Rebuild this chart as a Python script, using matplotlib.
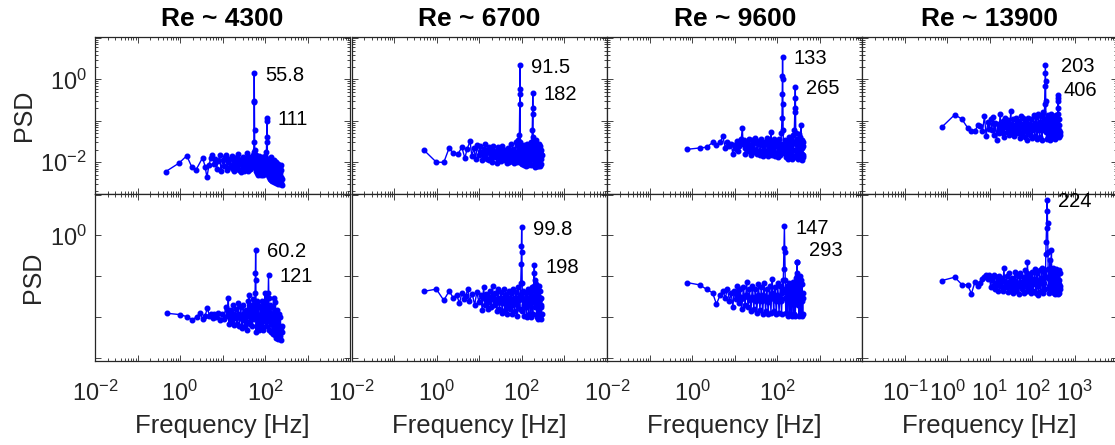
import matplotlib.pyplot as plt
from matplotlib.ticker import LogLocator, NullLocator

plt.rcParams['font.family'] = ['Liberation Sans', 'DejaVu Sans']
plt.rcParams['mathtext.fontset'] = 'custom'
plt.rcParams['mathtext.rm'] = 'Liberation Sans'
plt.rcParams['mathtext.it'] = 'Liberation Sans:italic'
plt.rcParams['mathtext.bf'] = 'Liberation Sans:bold'

TITLES = ['Re ~ 4300', 'Re ~ 6700', 'Re ~ 9600', 'Re ~ 13900']

# ---- row 1 ----
freq_a = [0.46, 0.95, 1.44, 1.9, 2.4, 3.4, 3.9, 4.3, 4.8, 5.3, 5.8, 6.3, 6.8, 7.3, 7.8, 8.7, 9.2,
          10.1, 11.0, 11.6, 12.1, 13.0, 13.6, 14.0, 15.0, 15.5, 16.4, 16.9, 17.9, 18.4, 19.3, 19.8,
          20.8, 21.3, 22.3, 23.2, 24.2, 24.7, 25.7, 26.6, 27.6, 28.5, 29.5, 30.5, 31.5, 32.4, 33.4,
          34.4, 35.4, 36.3, 37.3, 38.7, 39.6, 40.6, 42.0, 43.1, 44.1, 45.5, 46.5, 48.0, 49.0, 50.4,
          51.4, 52.8, 53.8, 54.3, 54.8, 55.3, 55.8, 56.3, 56.8, 57.3, 58.2, 59.2, 60.2, 61.1, 62.1,
          63.5, 65.0, 66.5, 68.0, 69.5, 71.0, 72.5, 74.0, 75.8, 77.6, 79.3, 81.0, 82.8, 84.5, 86.2,
          88.0, 90.0, 92.0, 94.0, 96.0, 98.0, 100, 102, 105, 108, 110, 111, 112, 113, 115, 117, 118,
          120, 122, 124, 126, 128, 130, 133, 135, 137, 140, 142, 145, 147, 150, 153, 156, 158, 161,
          164, 167, 170, 173, 176, 180, 183, 186, 190, 193, 197, 200, 204, 208, 212, 216, 220, 224,
          228, 232, 236, 240, 244, 247, 250]
psd_a = [0.0059, 0.0095, 0.0143, 0.0076, 0.0066, 0.0128, 0.0078, 0.0043, 0.0085, 0.0125, 0.0152,
         0.0090, 0.0120, 0.0070, 0.0105, 0.0145, 0.0060,
         0.0110, 0.0080, 0.0130, 0.0150, 0.0065, 0.0100, 0.0120, 0.0075, 0.0085, 0.0125, 0.0140,
         0.0070, 0.0060, 0.0095, 0.0115, 0.0080, 0.0075, 0.0130, 0.0160, 0.0090, 0.0065, 0.0100,
         0.0110, 0.0058, 0.0070, 0.0120, 0.0135, 0.0085, 0.0060, 0.0095, 0.0125, 0.0080, 0.0075,
         0.0110, 0.0170, 0.0090, 0.0060, 0.0100, 0.0130, 0.0070, 0.0068, 0.0105, 0.0120, 0.0080,
         0.0075, 0.0115, 0.0145, 0.0100, 0.0180, 0.030, 0.30, 1.4, 0.28, 0.060, 0.020, 0.0090,
         0.0130, 0.0150, 0.0070, 0.0060, 0.0100, 0.0120, 0.0055, 0.0050, 0.0090, 0.0140, 0.0075,
         0.0055, 0.0085, 0.0110, 0.0060, 0.0050, 0.0095, 0.0130, 0.0065, 0.0048, 0.0080, 0.0115,
         0.0058, 0.0052, 0.0090, 0.0140, 0.0070, 0.0060, 0.018, 0.040, 0.117, 0.100, 0.030, 0.0060,
         0.0095, 0.0050, 0.0120, 0.0070, 0.0045, 0.0085, 0.0105, 0.0040, 0.0075, 0.0130, 0.0055,
         0.0038, 0.0090, 0.0065, 0.0110, 0.0035, 0.0080, 0.0050, 0.0095, 0.0033, 0.0070, 0.0110,
         0.0045, 0.0036, 0.0085, 0.0055, 0.0100, 0.0032, 0.0065, 0.0040, 0.0090, 0.0030, 0.0060,
         0.0080, 0.0034, 0.0050, 0.0075, 0.0029, 0.0055, 0.0085, 0.0031, 0.0045, 0.0065, 0.0028,
         0.0040]
peaks_a = [55.8, 111]

freq_b = [0.49, 0.98, 1.47, 1.96, 2.45, 3.2, 3.9, 4.6, 5.2, 6.1, 6.7, 7.5, 8.2, 9.0, 9.8, 10.6,
          11.2, 11.8, 12.4, 12.9, 13.5, 14.0, 14.7, 15.3, 16.0, 16.6, 17.4, 18.3, 19.1, 19.9, 20.7,
          21.6, 22.6, 23.6, 24.6, 25.6, 26.7, 27.8, 29.0, 30.1, 31.3, 32.5, 33.8, 35.2, 36.6, 38.0,
          39.4, 40.8, 42.4, 44.0, 45.6, 47.3, 49.1, 50.9, 52.7, 54.6, 56.5, 58.4, 60.5, 62.6, 64.8,
          67.0, 69.2, 71.5, 73.9, 76.3, 78.2, 80.0, 82.0, 84.0, 86.0, 88.0, 90.0, 91.0, 91.5, 92.0,
          93.0, 94.5, 96.0, 97.5, 99.5, 102, 104, 106, 108, 110, 113, 115, 117, 119, 122, 124, 126,
          129, 131, 133, 136, 138, 140, 143, 146, 148, 151, 154, 157, 160, 163, 166, 169, 172, 175,
          178, 180, 182, 184, 186, 188, 191, 194, 197, 200, 203, 206, 210, 213, 217, 220, 224, 228,
          232, 236, 240, 244, 248, 252, 256, 260, 264, 268, 272, 276, 280, 284, 288, 292, 296]
psd_b = [0.020, 0.010, 0.0099, 0.022, 0.0165, 0.016, 0.023, 0.0125, 0.021, 0.032, 0.014, 0.022,
         0.012, 0.026, 0.015, 0.024,
         0.018, 0.011, 0.016, 0.021, 0.013, 0.027, 0.017, 0.012, 0.019, 0.023, 0.011, 0.020, 0.015,
         0.010, 0.018, 0.024, 0.013, 0.019, 0.014, 0.0095, 0.017, 0.023, 0.012, 0.016, 0.021,
         0.0105, 0.015, 0.025, 0.012, 0.018, 0.011, 0.020, 0.014, 0.0095, 0.017, 0.022, 0.012,
         0.010, 0.019, 0.027, 0.013, 0.0105, 0.017, 0.021, 0.011, 0.0095, 0.016, 0.030, 0.013,
         0.0100, 0.018, 0.024, 0.012, 0.034, 0.016, 0.045, 0.25, 0.60, 2.2, 0.45, 0.030, 0.014,
         0.0095, 0.020, 0.012, 0.024, 0.0090, 0.016, 0.021, 0.0110, 0.026, 0.0085, 0.015, 0.020,
         0.0095, 0.022, 0.013, 0.0080, 0.018, 0.028, 0.0095, 0.016, 0.021, 0.0085, 0.019, 0.012,
         0.026, 0.0090, 0.017, 0.022, 0.0085, 0.015, 0.030, 0.012, 0.030, 0.060, 0.15, 0.48, 0.20,
         0.040, 0.012, 0.0085, 0.020, 0.011, 0.024, 0.0078, 0.016, 0.022, 0.0085, 0.034, 0.013,
         0.0080, 0.019, 0.026, 0.0090, 0.015, 0.021, 0.0080, 0.028, 0.012, 0.0085, 0.018, 0.024,
         0.0080, 0.014, 0.020, 0.0090, 0.016, 0.012, 0.015]
peaks_b = [91.5, 182]

freq_c = [0.74, 1.5, 2.2, 3.0, 3.7, 4.5, 5.2, 6.0, 6.7, 7.5, 8.2, 9.0, 9.7, 10.5, 11.2, 12.0,
          12.7, 13.5, 14.2, 15.0, 15.7, 16.5, 17.2, 17.7, 18.5, 19.2, 20.0, 21.0, 22.0, 23.0, 24.0,
          25.0, 26.0, 27.0, 28.0, 29.3, 30.5, 31.7, 33.0, 34.5, 36.0, 37.5, 39.0, 40.5, 42.0, 43.8,
          45.5, 47.2, 49.0, 51.0, 53.0, 55.0, 57.0, 59.0, 61.0, 63.5, 66.0, 68.5, 71.0, 73.5, 76.0,
          79.0, 82.0, 85.0, 88.0, 91.5, 95.0, 98.5, 102, 106, 110, 114, 118, 121, 125, 129, 131,
          132, 133, 134, 135, 137, 139, 142, 146, 150, 154, 158, 162, 167, 171, 176, 181, 186, 191,
          196, 201, 207, 212, 218, 224, 230, 236, 242, 247, 252, 258, 262, 265, 268, 272, 276, 280,
          286, 292, 298, 305, 311, 318, 325, 332, 339, 346, 353, 360, 364, 368, 373, 378, 383, 388,
          393, 398, 402, 405]
psd_c = [0.0204, 0.022, 0.023, 0.030, 0.026, 0.030, 0.042, 0.022, 0.031, 0.024, 0.028, 0.016,
         0.026, 0.021, 0.033, 0.019, 0.025, 0.030, 0.036, 0.068, 0.027, 0.034, 0.022, 0.016, 0.026,
         0.030, 0.019, 0.025, 0.036, 0.020, 0.015, 0.028, 0.034, 0.021, 0.018, 0.030, 0.038, 0.020,
         0.016, 0.027, 0.033, 0.018, 0.015, 0.028, 0.036, 0.019, 0.014, 0.026, 0.031, 0.018, 0.016,
         0.029, 0.038, 0.020, 0.014, 0.026, 0.034, 0.019, 0.054, 0.022, 0.015, 0.028, 0.037, 0.018,
         0.014, 0.026, 0.033, 0.017, 0.013, 0.025, 0.036, 0.020, 0.015, 0.028, 0.050, 0.12, 0.45,
         1.2, 3.5, 1.0, 0.25, 0.060, 0.025, 0.017, 0.028, 0.035, 0.019, 0.013, 0.024, 0.031, 0.016,
         0.012, 0.027, 0.040, 0.020, 0.013, 0.025, 0.034, 0.017, 0.012, 0.028, 0.045, 0.020, 0.014,
         0.030, 0.060, 0.16, 0.35, 0.66, 0.20, 0.050, 0.020, 0.013, 0.026, 0.036, 0.018, 0.012,
         0.030, 0.048, 0.019, 0.013, 0.026, 0.040, 0.022, 0.080, 0.030, 0.012, 0.022, 0.035, 0.016,
         0.011, 0.024, 0.030, 0.015, 0.013]
peaks_c = [133, 265]

freq_d = [0.74, 1.5, 2.2, 3.0, 3.7, 4.5, 5.2, 6.0, 6.7, 7.5, 8.2, 9.0, 9.7, 10.5, 11.2, 12.0,
          12.7, 13.5, 14.5, 15.5, 16.5, 17.5, 18.5, 19.2, 20.0, 20.7, 21.5, 22.3, 23.0, 24.0, 25.0,
          26.0, 27.0, 28.0, 29.0, 30.0, 31.0, 32.0, 33.0, 34.2, 35.5, 36.7, 38.0, 39.5, 41.0, 42.5,
          44.0, 45.5, 47.0, 48.7, 50.5, 52.2, 54.0, 56.0, 58.0, 60.0, 62.0, 64.0, 66.0, 68.5, 71.0,
          73.5, 76.0, 78.5, 81.0, 84.0, 87.0, 90.0, 93.0, 96.5, 100, 103, 107, 110, 114, 118, 122,
          126, 130, 134, 139, 143, 148, 153, 158, 163, 168, 173, 178, 183, 188, 192, 195, 199, 201,
          203, 205, 207, 210, 214, 218, 223, 228, 234, 240, 246, 252, 258, 265, 271, 278, 285, 292,
          299, 306, 313, 320, 327, 335, 342, 350, 357, 365, 371, 378, 384, 390, 394, 398, 403, 406,
          409, 414, 420, 426, 432, 438, 445]
psd_d = [0.070, 0.141, 0.110, 0.068, 0.056, 0.057, 0.078, 0.075, 0.056, 0.128, 0.042, 0.095,
         0.062, 0.110, 0.060, 0.125, 0.045, 0.090, 0.035, 0.085, 0.050, 0.150, 0.060, 0.080, 0.100,
         0.052, 0.040, 0.075, 0.120, 0.070, 0.055, 0.090, 0.105, 0.060, 0.045, 0.080, 0.170, 0.070,
         0.050, 0.085, 0.110, 0.060, 0.042, 0.075, 0.120, 0.065, 0.050, 0.085, 0.100, 0.055, 0.038,
         0.070, 0.130, 0.075, 0.048, 0.085, 0.115, 0.060, 0.040, 0.070, 0.095, 0.055, 0.035, 0.080,
         0.120, 0.065, 0.045, 0.085, 0.110, 0.060, 0.038, 0.075, 0.140, 0.070, 0.042, 0.090, 0.125,
         0.060, 0.036, 0.080, 0.150, 0.070, 0.040, 0.095, 0.130, 0.060, 0.035, 0.085, 0.160, 0.070,
         0.060, 0.110, 0.25, 0.70, 1.4, 2.2, 0.90, 0.30, 0.080, 0.055, 0.036, 0.090, 0.140, 0.065,
         0.040, 0.085, 0.120, 0.060, 0.035, 0.090, 0.150, 0.070, 0.040, 0.095, 0.130, 0.060, 0.038,
         0.080, 0.120, 0.065, 0.036, 0.090, 0.140, 0.070, 0.045, 0.110, 0.100, 0.150, 0.20, 0.35,
         0.42, 0.30, 0.060, 0.040, 0.080, 0.110, 0.055, 0.045]
peaks_d = [203, 406]

# ---- row 2 ----
freq_e = [0.49, 0.98, 1.47, 1.96, 2.45, 2.94, 3.43, 3.92, 4.41, 4.90, 5.39, 5.88, 6.37, 6.86,
          7.8, 8.8, 9.8, 10.8, 11.8, 12.7, 13.2, 13.7, 14.2, 14.7, 15.2, 15.7, 16.2, 16.9, 17.6,
          18.4, 19.1, 19.8, 20.6, 21.3, 22.1, 22.8, 23.5, 24.2, 25.0, 26.0, 27.0, 28.0, 29.0, 30.0,
          31.0, 32.0, 33.0, 34.0, 35.0, 36.2, 37.5, 38.8, 40.0, 41.0, 42.0, 43.0, 44.0, 45.5, 47.0,
          48.5, 50.0, 51.5, 53.0, 54.5, 56.0, 57.3, 58.5, 59.5, 60.2, 61.0, 61.5, 62.0, 63.0, 64.0,
          65.5, 67.0, 68.5, 70.0, 72.0, 74.0, 76.0, 78.0, 80.0, 82.0, 84.0, 86.0, 88.0, 90.0, 92.5,
          95.0, 97.5, 100, 102, 104, 107, 110, 113, 116, 119, 121, 123, 124.5, 126, 129, 132, 135,
          138, 141, 145, 148, 152, 156, 160, 164, 168, 172, 176, 180, 184, 188, 192, 196, 200, 205,
          210, 215, 220, 225, 230, 235, 240, 245, 250]
psd_e = [0.0126, 0.0117, 0.0104, 0.0087, 0.0103, 0.0126, 0.0090, 0.0110, 0.0173, 0.0110, 0.0120,
         0.0095, 0.0120, 0.0105, 0.0130, 0.0085, 0.0120, 0.0090, 0.0180, 0.0110, 0.0140, 0.030,
         0.0068, 0.0110, 0.0150, 0.0090, 0.0080, 0.0130, 0.0200, 0.0110, 0.0065, 0.0100, 0.0160,
         0.0095, 0.0070, 0.0120, 0.0220, 0.0100, 0.0060, 0.0110, 0.0180, 0.0090, 0.0055, 0.0120,
         0.0200, 0.0085, 0.0060, 0.0110, 0.0150, 0.0080, 0.0050, 0.0130, 0.0250, 0.0110, 0.036,
         0.0140, 0.0070, 0.0100, 0.0200, 0.0090, 0.0060, 0.0150, 0.028, 0.0120, 0.0090, 0.018,
         0.040, 0.12, 0.45, 0.080, 0.015, 0.0045, 0.0100, 0.025, 0.0120, 0.0060, 0.0090, 0.020,
         0.0100, 0.0050, 0.0085, 0.018, 0.0110, 0.0060, 0.0095, 0.025, 0.0120, 0.0050, 0.0080,
         0.022, 0.0130, 0.040, 0.0150, 0.0060, 0.0100, 0.030, 0.0120, 0.0080, 0.040, 0.11, 0.030,
         0.0110, 0.0050, 0.0090, 0.020, 0.0100, 0.0045, 0.0080, 0.018, 0.0090, 0.0040, 0.0075,
         0.030, 0.0110, 0.0038, 0.0070, 0.024, 0.0080, 0.0032, 0.0060, 0.015, 0.0070, 0.0030,
         0.0055, 0.012, 0.0060, 0.0035, 0.0050, 0.010, 0.0055, 0.0028, 0.0045, 0.0060]
peaks_e = [60.2, 121]

freq_f = [0.49, 0.98, 1.47, 1.96, 2.45, 2.94, 3.43, 3.92, 4.41, 4.90, 5.39, 5.88, 6.86, 7.8, 8.8,
          9.8, 10.8, 11.8, 12.2, 12.7, 13.2, 13.7, 14.2, 14.7, 15.5, 16.2, 16.9, 17.6, 18.4, 19.1,
          19.8, 20.6, 21.3, 22.1, 23.0, 24.0, 25.0, 26.0, 27.0, 28.0, 29.0, 30.0, 31.2, 32.5, 33.8,
          35.0, 36.2, 37.5, 38.8, 40.0, 41.5, 43.0, 44.5, 46.0, 47.5, 49.0, 50.5, 52.0, 54.0, 56.0,
          58.0, 60.0, 62.0, 64.0, 66.0, 68.0, 70.5, 73.0, 75.5, 78.0, 81.0, 84.0, 87.0, 90.0, 92.5,
          95.0, 97.5, 98.5, 99.8, 101, 102, 103, 104, 107, 110, 113, 116, 119, 123, 126, 130, 134,
          138, 142, 146, 150, 155, 159, 164, 168, 173, 177, 182, 186, 190, 195, 198, 201, 203, 205,
          209, 214, 219, 224, 229, 234, 239, 244, 249, 254, 259, 264, 269, 274, 279, 284, 288, 292,
          296]
psd_f = [0.043, 0.049, 0.026, 0.044, 0.030, 0.036, 0.022, 0.040, 0.028, 0.034, 0.050, 0.025,
         0.038, 0.020, 0.042, 0.024, 0.035, 0.015, 0.030, 0.055, 0.032, 0.020, 0.028, 0.038, 0.022,
         0.016, 0.030, 0.045, 0.026, 0.018, 0.033, 0.060, 0.030, 0.020, 0.028, 0.040, 0.022, 0.014,
         0.030, 0.048, 0.024, 0.016, 0.028, 0.042, 0.022, 0.013, 0.030, 0.050, 0.024, 0.015, 0.026,
         0.038, 0.020, 0.012, 0.028, 0.045, 0.022, 0.016, 0.030, 0.040, 0.020, 0.012, 0.028, 0.050,
         0.024, 0.014, 0.030, 0.042, 0.020, 0.011, 0.030, 0.055, 0.026, 0.016, 0.035, 0.070, 0.20,
         0.55, 1.6, 0.40, 0.070, 0.030, 0.014, 0.028, 0.045, 0.020, 0.011, 0.026, 0.040, 0.018,
         0.010, 0.030, 0.050, 0.022, 0.012, 0.028, 0.042, 0.020, 0.010, 0.030, 0.055, 0.024, 0.012,
         0.032, 0.060, 0.12, 0.19, 0.08, 0.030, 0.018, 0.035, 0.065, 0.024, 0.010, 0.030, 0.050,
         0.020, 0.009, 0.032, 0.060, 0.024, 0.010, 0.028, 0.045, 0.018, 0.009, 0.020, 0.030, 0.012]
peaks_f = [99.8, 198]

freq_g = [0.74, 1.5, 2.2, 3.0, 3.7, 4.5, 5.2, 6.0, 6.7, 7.5, 8.2, 9.0, 9.7, 10.5, 11.0, 11.5,
          12.0, 12.5, 13.0, 13.5, 14.0, 14.5, 15.2, 16.0, 16.8, 17.5, 18.2, 19.0, 19.7, 20.5, 21.2,
          22.0, 23.0, 24.0, 25.0, 26.0, 27.0, 28.0, 29.2, 30.5, 31.7, 33.0, 34.5, 36.0, 37.5, 39.0,
          40.5, 42.0, 43.8, 45.5, 47.2, 49.0, 51.0, 53.0, 55.0, 57.0, 59.0, 61.0, 63.5, 66.0, 68.5,
          71.0, 73.5, 76.0, 79.0, 82.0, 85.0, 88.0, 91.5, 95.0, 98.5, 102, 106, 110, 114, 118, 122,
          126, 130, 134, 137, 140, 144, 147, 150, 153, 155, 158, 162, 167, 171, 176, 181, 186, 191,
          196, 201, 207, 212, 218, 224, 230, 236, 242, 248, 254, 260, 266, 272, 278, 282, 286, 290,
          293, 296, 300, 306, 312, 318, 325, 331, 338, 344, 350, 356, 362, 368, 374, 380, 386, 391,
          396, 400, 404]
psd_g = [0.071, 0.062, 0.048, 0.040, 0.021, 0.035, 0.045, 0.030, 0.050, 0.025, 0.040, 0.018,
         0.045, 0.028, 0.040, 0.060, 0.035, 0.022, 0.032, 0.050, 0.028, 0.016, 0.030, 0.055, 0.032,
         0.020, 0.035, 0.075, 0.035, 0.018, 0.030, 0.050, 0.026, 0.014, 0.032, 0.060, 0.030, 0.016,
         0.030, 0.050, 0.025, 0.013, 0.035, 0.065, 0.030, 0.015, 0.030, 0.055, 0.025, 0.012, 0.035,
         0.070, 0.030, 0.014, 0.028, 0.050, 0.024, 0.012, 0.032, 0.060, 0.028, 0.013, 0.040, 0.085,
         0.035, 0.014, 0.030, 0.055, 0.025, 0.012, 0.035, 0.070, 0.030, 0.013, 0.030, 0.060, 0.025,
         0.012, 0.040, 0.080, 0.050, 0.15, 0.50, 1.7, 0.40, 0.08, 0.030, 0.013, 0.030, 0.060, 0.025,
         0.011, 0.035, 0.070, 0.030, 0.012, 0.030, 0.065, 0.028, 0.011, 0.035, 0.075, 0.030, 0.012,
         0.032, 0.065, 0.025, 0.011, 0.040, 0.090, 0.050, 0.12, 0.22, 0.23, 0.10, 0.020, 0.040,
         0.080, 0.030, 0.011, 0.040, 0.10, 0.030, 0.012, 0.035, 0.080, 0.030, 0.011, 0.030, 0.065,
         0.025, 0.012, 0.030, 0.040]
peaks_g = [147, 293]

freq_h = [0.74, 1.5, 2.2, 3.0, 3.7, 4.5, 5.2, 6.0, 6.7, 7.5, 8.2, 9.0, 9.7, 10.5, 11.2, 12.0,
          12.7, 13.5, 14.0, 14.5, 15.0, 15.5, 16.0, 16.5, 17.0, 17.5, 18.0, 18.5, 19.2, 20.0, 20.7,
          21.5, 22.3, 23.0, 24.0, 25.0, 26.0, 27.0, 28.0, 29.0, 30.0, 31.0, 32.2, 33.5, 34.7, 36.0,
          37.5, 39.0, 40.5, 42.0, 43.5, 45.0, 46.7, 48.5, 50.2, 52.0, 54.0, 56.0, 58.0, 60.0, 62.0,
          64.0, 66.5, 69.0, 71.5, 74.0, 76.0, 77.0, 78.5, 80.0, 83.0, 86.0, 89.0, 92.0, 95.5, 99.0,
          102, 106, 110, 114, 118, 122, 126, 130, 134, 139, 143, 148, 153, 158, 163, 168, 173, 178,
          183, 188, 193, 198, 204, 208, 212, 216, 220, 224, 228, 232, 235, 238, 243, 248, 254, 260,
          265, 270, 276, 282, 287, 292, 298, 304, 310, 316, 323, 330, 337, 344, 351, 358, 365, 372,
          379, 386, 393, 400, 407, 414, 421, 428, 434, 440, 445, 450]
psd_h = [0.079, 0.096, 0.063, 0.062, 0.038, 0.075, 0.058, 0.070, 0.087, 0.095, 0.111, 0.085,
         0.111, 0.054, 0.090, 0.060, 0.110, 0.050, 0.070, 0.095, 0.065, 0.045, 0.075, 0.105, 0.070,
         0.060, 0.090, 0.080, 0.055, 0.045, 0.080, 0.160, 0.075, 0.055, 0.070, 0.100, 0.060, 0.042,
         0.075, 0.120, 0.070, 0.050, 0.065, 0.090, 0.055, 0.040, 0.080, 0.130, 0.065, 0.045, 0.070,
         0.100, 0.060, 0.038, 0.075, 0.120, 0.070, 0.050, 0.065, 0.095, 0.055, 0.040, 0.085, 0.140,
         0.070, 0.045, 0.120, 0.230, 0.090, 0.060, 0.075, 0.110, 0.055, 0.040, 0.080, 0.130, 0.065,
         0.045, 0.085, 0.150, 0.070, 0.040, 0.075, 0.120, 0.060, 0.036, 0.080, 0.140, 0.070, 0.045,
         0.090, 0.160, 0.075, 0.040, 0.080, 0.130, 0.070, 0.050, 0.100, 0.35, 0.70, 1.5, 4.0, 7.4,
         2.0, 0.40, 0.150, 0.090, 0.060, 0.040, 0.090, 0.250, 0.080, 0.045, 0.120, 0.450, 0.100,
         0.050, 0.080, 0.160, 0.070, 0.040, 0.085, 0.140, 0.065, 0.038, 0.080, 0.150, 0.070, 0.042,
         0.085, 0.130, 0.060, 0.038, 0.075, 0.140, 0.065, 0.040, 0.080, 0.120, 0.060, 0.050]
peaks_h = [224]

panels = [
    [(freq_a, psd_a, peaks_a), (freq_b, psd_b, peaks_b), (freq_c, psd_c, peaks_c), (freq_d, psd_d, peaks_d)],
    [(freq_e, psd_e, peaks_e), (freq_f, psd_f, peaks_f), (freq_g, psd_g, peaks_g), (freq_h, psd_h, peaks_h)],
]

# label offsets in pixels (default, plus a few that sit differently)
label_offset = {406: (5, 5), 293: (12, 11), 203: (16, -1)}

W, H = 1115, 445
fig = plt.figure(figsize=(W / 100, H / 100), dpi=100)

col_left = [95, 351.7, 607.3, 862.3]
col_w = 255
row_top = [37, 194]
row_bot = [194, 361]
row_ylim = [(1.7e-3, 10.6), (8.6e-4, 10.3)]

x_decades = [1e-2, 1e-1, 1e0, 1e1, 1e2, 1e3, 1e4]
x_labels_std = ['$10^{-2}$', '', '$10^{0}$', '', '$10^{2}$', '', '']
x_labels_last = ['', '$10^{-1}$', '$10^{0}$', '$10^{1}$', '$10^{2}$', '$10^{3}$', '']

ink = '#262626'

for r in range(2):
    for c in range(4):
        freq, psd, peaks = panels[r][c]
        ax = fig.add_axes([col_left[c] / W, 1 - row_bot[r] / H,
                           col_w / W, (row_bot[r] - row_top[r]) / H])
        ax.plot(freq, psd, '-o', color='#0000FF', lw=1.0, ms=3.3, mec='#0000FF')
        ax.set_xscale('log')
        ax.set_yscale('log')
        ax.set_xlim(1e-2, 1e4)

        for p in peaks:
            pv = psd[freq.index(p)]
            dx, dy = label_offset.get(p, (11, -2))
            ax.annotate(f'{p:g}', xy=(p, pv), xytext=(dx, dy), textcoords='offset pixels',
                        ha='left', va='center', fontsize=14.5, color='black')

        ax.set_xticks(x_decades)
        ax.xaxis.set_minor_locator(LogLocator(base=10, subs=range(2, 10), numticks=20))
        if r == 1:
            ax.set_xticklabels(x_labels_last if c == 3 else x_labels_std)
            ax.set_xlabel('Frequency [Hz]', fontsize=18.5, color=ink, labelpad=6)
        else:
            ax.set_xticklabels([''] * len(x_decades))
            ax.set_title(TITLES[c], fontsize=19, fontweight='bold', pad=8)

        if r == 0:
            ax.set_yticks([1e-2, 1e-1, 1e0, 1e1])
            ylabs = ['$10^{-2}$', '', '$10^{0}$', '']
            ax.yaxis.set_minor_locator(LogLocator(base=10, subs=range(2, 10), numticks=20))
        else:
            ax.set_yticks([1e-3, 1e-2, 1e-1, 1e0, 1e1])
            ylabs = ['', '', '', '$10^{0}$', '']
            ax.yaxis.set_minor_locator(NullLocator())
        ax.set_ylim(*row_ylim[r])
        if c == 0:
            ax.set_yticklabels(ylabs)
            ax.set_ylabel('PSD', fontsize=18, color=ink, labelpad=3)
        else:
            ax.set_yticklabels([''] * len(ylabs))

        ax.tick_params(which='both', direction='in', top=True, right=True,
                       color=ink, labelcolor=ink, labelsize=17, width=0.6)
        ax.tick_params(which='major', length=4, pad=14)
        ax.tick_params(axis='y', which='major', pad=6)
        ax.tick_params(which='minor', length=2)
        for s in ax.spines.values():
            s.set_color(ink)
            s.set_linewidth(0.9)

fig.savefig('out.png', dpi=100)
